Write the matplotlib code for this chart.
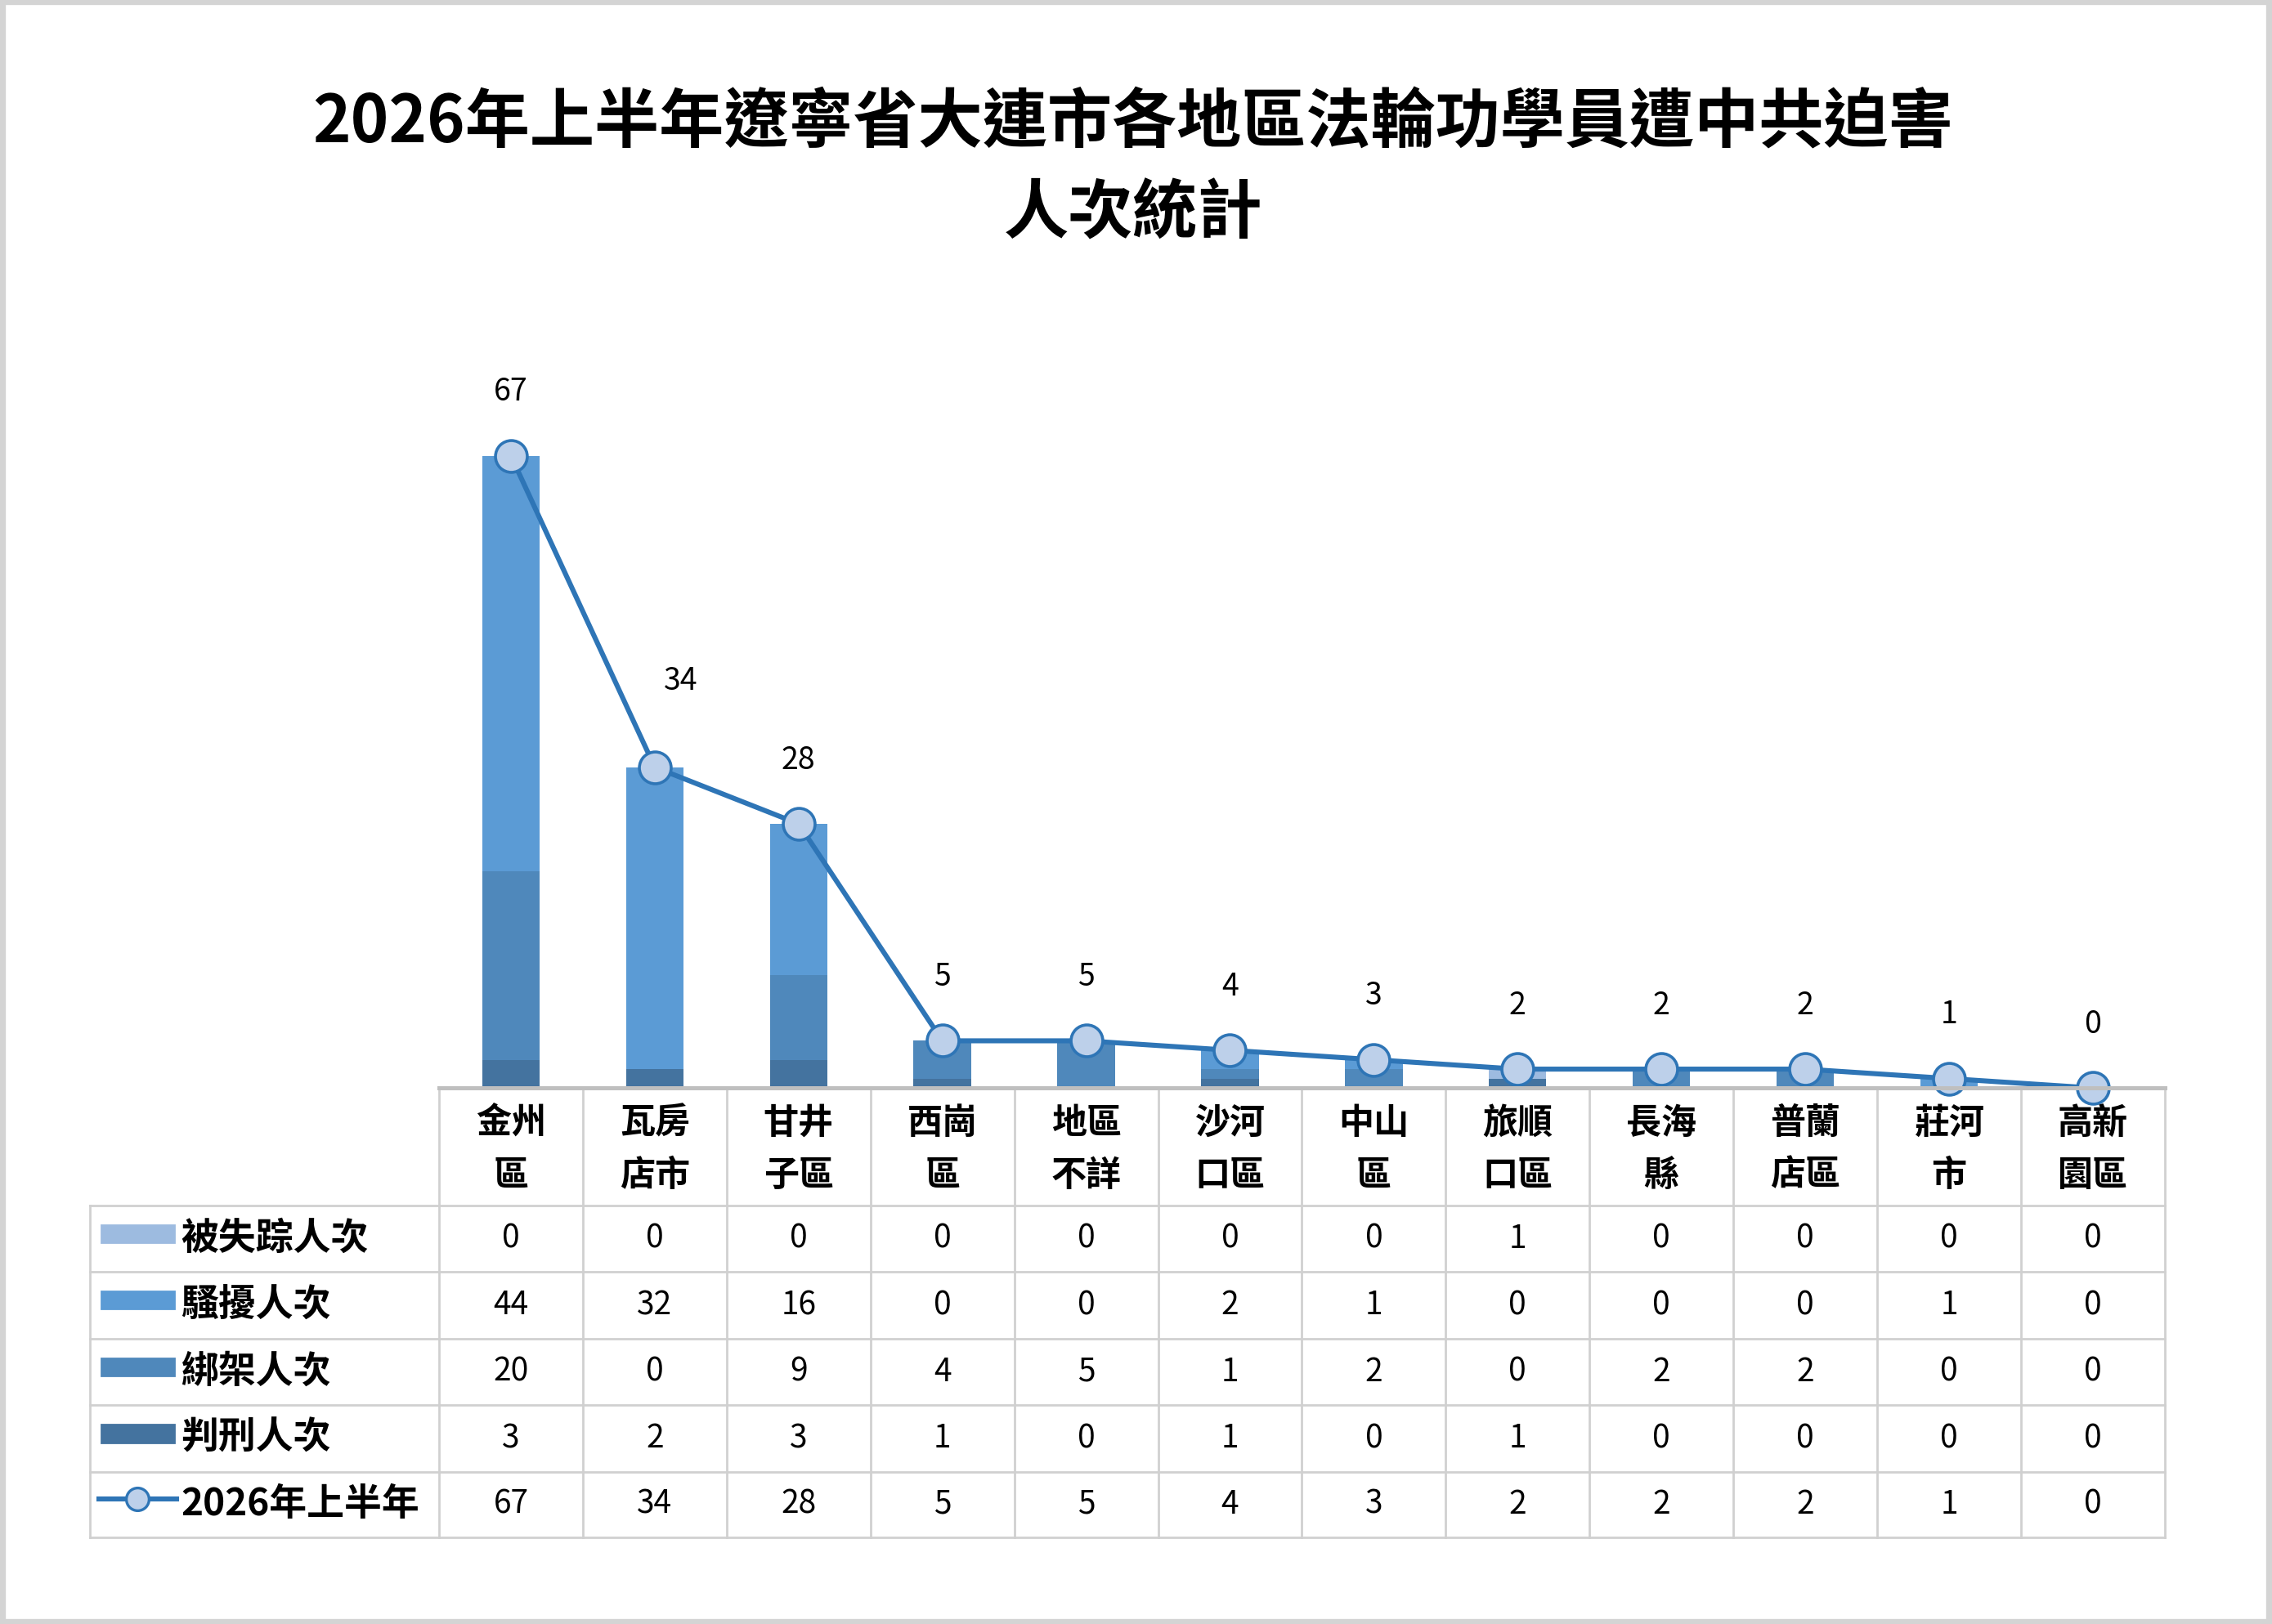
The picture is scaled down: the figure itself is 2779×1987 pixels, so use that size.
import matplotlib
matplotlib.use("Agg")
import matplotlib.pyplot as plt
from matplotlib.patches import Rectangle
from matplotlib.lines import Line2D

plt.rcParams['font.family'] = ['Noto Sans CJK TC', 'DejaVu Sans']

# ---- data
districts = ["金州區", "瓦房店市", "甘井子區", "西崗區", "地區不詳", "沙河口區",
             "中山區", "旅順口區", "長海縣", "普蘭店區", "莊河市", "高新園區"]
missing = [0, 0, 0, 0, 0, 0, 0, 1, 0, 0, 0, 0]
harass = [44, 32, 16, 0, 0, 2, 1, 0, 0, 0, 1, 0]
abduct = [20, 0, 9, 4, 5, 1, 2, 0, 2, 2, 0, 0]
sentenced = [3, 2, 3, 1, 0, 1, 0, 1, 0, 0, 0, 0]
total = [67, 34, 28, 5, 5, 4, 3, 2, 2, 2, 1, 0]

series_names = ["被失踪人次", "騷擾人次", "綁架人次", "判刑人次"]
line_name = "2026年上半年"
title = "2026年上半年遼寧省大連市各地區法輪功學員遭中共迫害\n人次統計"

c_missing = "#9dbbe0"
c_harass = "#5b9bd5"
c_abduct = "#4f88bb"
c_sent = "#44739f"
c_line = "#2e75b6"
c_mark = "#bdd0ea"
c_grid = "#d0d0d0"

W, H = 1568.0, 1121.0   # layout measured on a 1568x1121 view

fig = plt.figure(figsize=(13.895, 9.935), dpi=200)
fig.patch.set_facecolor("white")
fig.add_artist(Rectangle((0.001, 0.001), 0.998, 0.998, transform=fig.transFigure,
                         fill=False, edgecolor="#d4d4d4", linewidth=3))

t1, t2 = title.split("\n")
fig.text(782 / W, 1 - 85 / H, t1, ha="center", va="center", fontsize=28.5, fontweight="bold")
fig.text(782 / W, 1 - 148 / H, t2, ha="center", va="center", fontsize=28.5, fontweight="bold")

#---- chart
ax = fig.add_axes([303 / W, 1 - 751 / H, (1494 - 303) / W, (751 - 230) / H])
x = list(range(len(districts)))
b1 = sentenced
b2 = [a + b for a, b in zip(b1, abduct)]
b3 = [a + b for a, b in zip(b2, harass)]
ax.bar(x, sentenced, width=0.4, color=c_sent)
ax.bar(x, abduct, width=0.4, bottom=b1, color=c_abduct)
ax.bar(x, harass, width=0.4, bottom=b2, color=c_harass)
ax.bar(x, missing, width=0.4, bottom=b3, color=c_missing)
ax.plot(x, total, color=c_line, lw=2.2, marker="o", markersize=14,
        markerfacecolor=c_mark, markeredgecolor=c_line, markeredgewidth=1.3,
        clip_on=False, zorder=5)
for i, v in enumerate(total):
    off = (11.5, 38) if i == 1 else (0, 28)
    ax.annotate(str(v), (i, v), xytext=off, textcoords="offset points",
                ha="center", va="center", fontsize=13.5)
ax.set_xlim(-0.5, len(districts) - 0.5)
ax.set_ylim(0, 80)
ax.axis("off")

#---- data table
tb = fig.add_axes([62 / W, 1 - 1061 / H, (1494 - 62) / W, (1061 - 751) / H])
left = -0.5 - (303 - 62) / 99.25
n = len(districts)
tb.set_xlim(left, n - 0.5)
tb.set_ylim(1061, 751)
tb.axis("off")

rows = [751, 832, 878, 924, 970, 1016, 1061]
for k in range(n + 1):
    tb.plot([k - 0.5, k - 0.5], [rows[0], rows[-1]], color=c_grid, lw=1, clip_on=False)
tb.plot([left, left], [rows[1], rows[-1]], color=c_grid, lw=1, clip_on=False)
for r in rows[1:]:
    tb.plot([left, n - 0.5], [r, r], color=c_grid, lw=1, clip_on=False)
tb.plot([-0.5, n - 0.5], [rows[0], rows[0]], color="#bfbfbf", lw=1.8, clip_on=False)

for i, name in enumerate(districts):
    tb.text(i, 775, name[:2], ha="center", va="center", fontsize=15.5, fontweight="bold")
    tb.text(i, 811, name[2:], ha="center", va="center", fontsize=15.5, fontweight="bold")

table_rows = [missing, harass, abduct, sentenced, total]
row_colors = [c_missing, c_harass, c_abduct, c_sent]
labels = series_names + [line_name]
px = 1 / 99.25
for r, (vals, lab) in enumerate(zip(table_rows, labels)):
    yc = (rows[r + 1] + rows[r + 2]) / 2
    for i, v in enumerate(vals):
        tb.text(i, yc, str(v), ha="center", va="center", fontsize=14)
    tb.text(left + 63 * px, yc, lab, ha="left", va="center", fontsize=16.5, fontweight="bold")
    if r < 4:
        tb.add_patch(Rectangle((left + 8 * px, yc - 9.5), 50 * px, 12,
                               color=row_colors[r], clip_on=False))
    else:
        tb.add_line(Line2D([left + 6 * px, left + 60 * px], [yc - 4, yc - 4],
                           color=c_line, lw=2.2))
        tb.plot([left + 33 * px], [yc - 4], marker="o", markersize=10,
                markerfacecolor=c_mark, markeredgecolor=c_line, markeredgewidth=1.2)

fig.savefig("out.png", dpi=200)
